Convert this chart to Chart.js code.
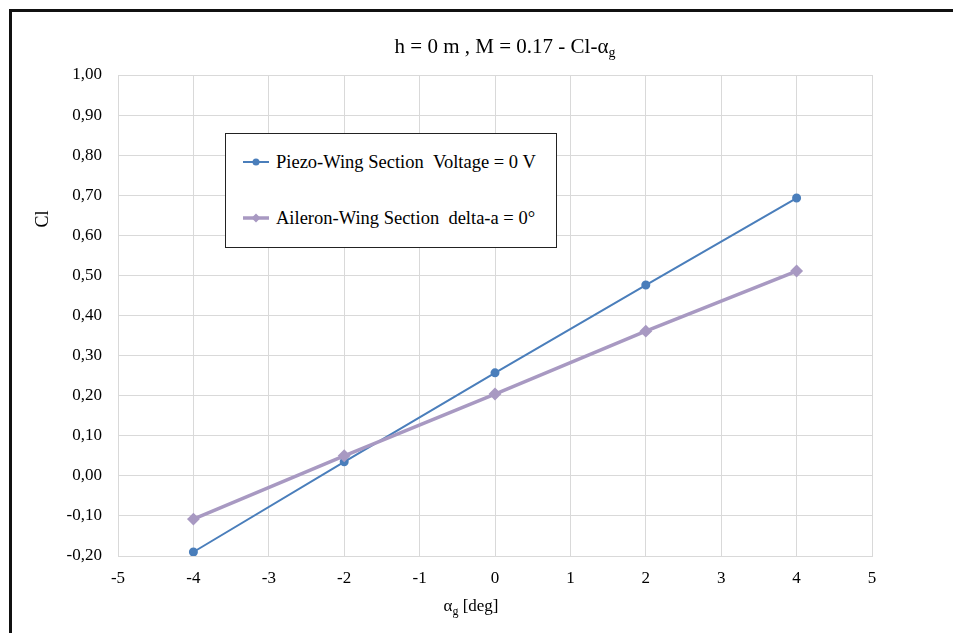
<!DOCTYPE html>
<html>
<head>
<meta charset="utf-8">
<script src="https://cdn.jsdelivr.net/npm/chart.js@4.4.1/dist/chart.umd.min.js"></script>
<style>
  html, body { margin: 0; padding: 0; background: #fff; }
  #wrap { position: relative; width: 953px; height: 633px; overflow: hidden; }
  #frame { position: absolute; left: 9px; top: 9px; width: 960px; height: 640px;
           border-left: 3px solid #111; border-top: 3px solid #111; box-sizing: border-box; }
  #legend { position: absolute; left: 225px; top: 133px; width: 332px; height: 115px;
            box-sizing: border-box; border: 1px solid #222; background: #fff;
            font-family: "Liberation Serif", serif; font-size: 18.5px; color: #000; }
  .item { position: absolute; left: 17px; height: 20px; display: flex; align-items: center; }
  .item canvas { margin-right: 7px; }
</style>
</head>
<body>
<div id="wrap">
  <canvas id="chart" width="953" height="633"></canvas>
  <div id="frame"></div>
  <div id="legend"></div>
</div>
<script>
const alpha = [-4, -2, 0, 2, 4];
const piezoCl = [-0.19, 0.035, 0.257, 0.476, 0.693];
const aileronCl = [-0.108, 0.05, 0.204, 0.361, 0.511];
const seriesNames = ["Piezo-Wing Section  Voltage = 0 V", "Aileron-Wing Section  delta-a = 0°"];
const xTickLabels = ["-5", "-4", "-3", "-2", "-1", "0", "1", "2", "3", "4", "5"];
const yTickLabels = ["-0,20", "-0,10", "0,00", "0,10", "0,20", "0,30", "0,40", "0,50", "0,60", "0,70", "0,80", "0,90", "1,00"];

const FONT = "Liberation Serif";
const blue = "#4a7ebb";
const lilac = "#a899c2";
const gridColor = "#d9d9d9";

const titles = {
  id: "titles",
  afterDraw(chart) {
    const ctx = chart.ctx;
    ctx.save();
    ctx.fillStyle = "#000";
    ctx.textBaseline = "alphabetic";

    // chart title with subscript g
    const main = "h = 0 m , M = 0.17 - Cl-α";
    ctx.font = "21px '" + FONT + "'";
    const w1 = ctx.measureText(main).width;
    ctx.font = "14px '" + FONT + "'";
    const w2 = ctx.measureText("g").width;
    let x = 505 - (w1 + w2) / 2;
    ctx.font = "21px '" + FONT + "'";
    ctx.textAlign = "left";
    ctx.fillText(main, x, 53);
    ctx.font = "14px '" + FONT + "'";
    ctx.fillText("g", x + w1, 57);

    // x axis title
    ctx.font = "17px '" + FONT + "'";
    const a = "α";
    const rest = " [deg]";
    const wa = ctx.measureText(a).width;
    const wr = ctx.measureText(rest).width;
    ctx.font = "12px '" + FONT + "'";
    const wg = ctx.measureText("g").width;
    x = 471 - (wa + wg + wr) / 2;
    ctx.font = "17px '" + FONT + "'";
    ctx.fillText(a, x, 611);
    ctx.font = "12px '" + FONT + "'";
    ctx.fillText("g", x + wa, 615);
    ctx.font = "17px '" + FONT + "'";
    ctx.fillText(rest, x + wa + wg, 611);

    // y axis title
    ctx.translate(48, 219);
    ctx.rotate(-Math.PI / 2);
    ctx.textAlign = "center";
    ctx.font = "18px '" + FONT + "'";
    ctx.fillText("Cl", 0, 0);
    ctx.restore();
  }
};

const chart = new Chart(document.getElementById("chart"), {
  type: "line",
  data: {
    datasets: [
      {
        label: seriesNames[0],
        data: alpha.map((a, i) => ({ x: a, y: piezoCl[i] })),
        borderColor: blue,
        backgroundColor: blue,
        borderWidth: 2,
        pointStyle: "circle",
        pointRadius: 3.5,
        order: 1
      },
      {
        label: seriesNames[1],
        data: alpha.map((a, i) => ({ x: a, y: aileronCl[i] })),
        borderColor: lilac,
        backgroundColor: lilac,
        borderWidth: 3.5,
        pointStyle: "rectRot",
        pointRadius: 4,
        order: 0
      }
    ]
  },
  options: {
    responsive: false,
    animation: false,
    layout: { padding: { left: 0, right: 81, top: 75, bottom: 0 } },
    plugins: { legend: { display: false }, tooltip: { enabled: false } },
    scales: {
      x: {
        type: "linear",
        min: -5,
        max: 5,
        ticks: {
          stepSize: 1,
          padding: 12,
          color: "#000",
          font: { family: FONT, size: 17 },
          callback: (v) => xTickLabels[Math.round(v) + 5]
        },
        grid: { color: gridColor, drawTicks: false },
        border: { color: gridColor },
        afterFit(scale) { scale.height = 633 - 556; }
      },
      y: {
        min: -0.2,
        max: 1.0,
        ticks: {
          stepSize: 0.1,
          padding: 16,
          color: "#000",
          font: { family: FONT, size: 17 },
          callback: (v) => yTickLabels[Math.round((v + 0.2) * 10)]
        },
        grid: { color: gridColor, drawTicks: false },
        border: { color: gridColor },
        afterFit(scale) { scale.width = 118; }
      }
    }
  },
  plugins: [titles]
});

// legend box built from the datasets
const legend = document.getElementById("legend");
const tops = [18, 74];
chart.data.datasets.forEach((ds, i) => {
  const item = document.createElement("div");
  item.className = "item";
  item.style.top = tops[i] + "px";
  const sw = document.createElement("canvas");
  sw.width = 26; sw.height = 20;
  const c = sw.getContext("2d");
  c.strokeStyle = ds.borderColor;
  c.lineWidth = ds.borderWidth;
  c.beginPath(); c.moveTo(0, 10); c.lineTo(26, 10); c.stroke();
  c.fillStyle = ds.backgroundColor;
  c.beginPath();
  if (ds.pointStyle === "circle") {
    c.arc(13, 10, 3.5, 0, Math.PI * 2);
  } else {
    c.moveTo(13, 5.5); c.lineTo(17.5, 10); c.lineTo(13, 14.5); c.lineTo(8.5, 10); c.closePath();
  }
  c.fill();
  const t = document.createElement("span");
  t.textContent = ds.label.replace(/  /g, "\u00a0\u00a0");
  item.appendChild(sw);
  item.appendChild(t);
  legend.appendChild(item);
});
</script>
</body>
</html>
